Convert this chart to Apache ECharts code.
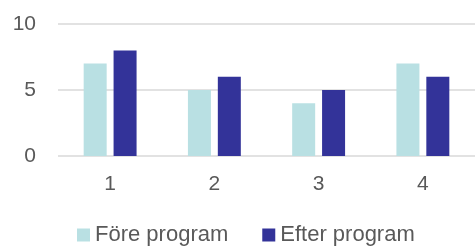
<!DOCTYPE html>
<html>
<head>
<meta charset="utf-8">
<script src="https://cdn.jsdelivr.net/npm/echarts@6/dist/echarts.min.js"></script>
<style>
  html, body { margin: 0; padding: 0; background: #fff; }
  #chart { width: 475px; height: 246px; }
</style>
</head>
<body>
<div id="chart"></div>
<script>
// values
const categories = ['1', '2', '3', '4'];
const fore = [7, 5, 4, 7];
const efter = [8, 6, 5, 6];
const yTicks = [0, 5, 10];

const chart = echarts.init(document.getElementById('chart'));
const font = 'Liberation Sans, Arial, sans-serif';

chart.setOption({
  animation: false,
  grid: { left: 58, top: 24, width: 420, height: 132 },
  legend: {
    top: 224,
    left: 77,
    padding: 0,
    itemWidth: 13,
    itemHeight: 13,
    itemGap: 34,
    icon: 'rect',
    textStyle: { fontFamily: font, fontSize: 22, color: '#595959' },
    data: ['Före program', 'Efter program']
  },
  xAxis: {
    type: 'category',
    data: categories,
    axisLine: { show: false },
    axisTick: { show: false },
    axisLabel: { fontFamily: font, fontSize: 21, color: '#595959', margin: 18 }
  },
  yAxis: {
    type: 'value',
    min: yTicks[0],
    max: yTicks[yTicks.length - 1],
    interval: 5,
    axisLabel: { fontFamily: font, fontSize: 21, color: '#595959', margin: 22 },
    splitLine: { lineStyle: { color: '#d9d9d9', width: 1.5 } }
  },
  series: [
    {
      name: 'Före program',
      type: 'bar',
      data: fore,
      barWidth: 23,
      barGap: '30%',
      itemStyle: { color: '#b9e0e3' }
    },
    {
      name: 'Efter program',
      type: 'bar',
      data: efter,
      barWidth: 23,
      itemStyle: { color: '#333399' }
    }
  ]
});
</script>
</body>
</html>
